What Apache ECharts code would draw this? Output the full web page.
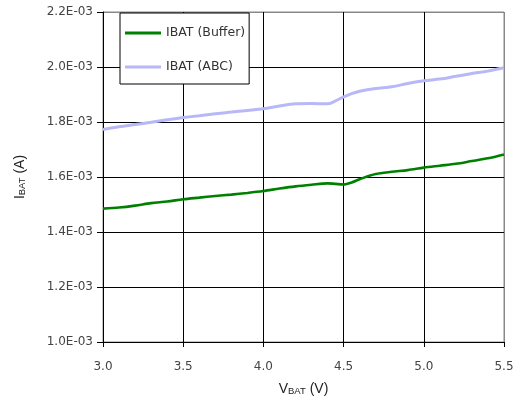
<!DOCTYPE html>
<html>
<head>
<meta charset="utf-8">
<script src="https://cdn.jsdelivr.net/npm/echarts@6/dist/echarts.min.js"></script>
<style>
  html, body { margin: 0; padding: 0; background: #fff; }
  #chart { width: 521px; height: 402px; }
</style>
</head>
<body>
<div id="chart"></div>
<script>
// Battery voltage sweep (V)
const vbat = [3.0, 3.1, 3.2, 3.3, 3.4, 3.5, 3.6, 3.7, 3.8, 3.9, 4.0, 4.1, 4.2, 4.3, 4.4, 4.45, 4.5, 4.55, 4.6, 4.7, 4.8, 4.9, 5.0, 5.1, 5.2, 5.3, 5.4, 5.5];

// Battery current (A) in buffer mode
const ibatBuffer = [1.485e-3, 1.489e-3, 1.496e-3, 1.505e-3, 1.511e-3, 1.519e-3, 1.525e-3, 1.531e-3, 1.536e-3, 1.542e-3,
  1.549e-3, 1.558e-3, 1.566e-3, 1.572e-3, 1.577e-3, 1.575e-3, 1.573e-3, 1.580e-3, 1.592e-3, 1.611e-3,
  1.619e-3, 1.625e-3, 1.634e-3, 1.641e-3, 1.648e-3, 1.658e-3, 1.668e-3, 1.682e-3];

// Battery current (A) in ABC mode
const ibatAbc = [1.773e-3, 1.783e-3, 1.791e-3, 1.799e-3, 1.808e-3, 1.816e-3, 1.823e-3, 1.830e-3, 1.836e-3, 1.842e-3,
  1.848e-3, 1.858e-3, 1.866e-3, 1.867e-3, 1.866e-3, 1.877e-3, 1.891e-3, 1.903e-3, 1.912e-3, 1.922e-3,
  1.928e-3, 1.940e-3, 1.950e-3, 1.956e-3, 1.966e-3, 1.976e-3, 1.985e-3, 1.997e-3];

const seriesNames = ['IBAT (Buffer)', 'IBAT (ABC)'];

const tickFont = 'DejaVu Sans';
const titleFont = 'Liberation Sans';

const chart = echarts.init(document.getElementById('chart'), null, { renderer: 'canvas' });

chart.setOption({
  animation: false,
  backgroundColor: '#ffffff',
  grid: {
    left: 103, right: 17, top: 12, bottom: 60,
    show: true, borderColor: '#888888', borderWidth: 1, backgroundColor: 'transparent'
  },
  legend: {
    orient: 'vertical',
    left: 120, top: 13,
    padding: [12, 4, 9, 5],
    itemGap: 18,
    icon: 'rect',
    itemWidth: 36, itemHeight: 3,
    backgroundColor: '#ffffff',
    borderColor: '#000000', borderWidth: 1,
    textStyle: { fontFamily: tickFont, fontSize: 12.5, color: '#333', lineHeight: 16 },
    data: seriesNames
  },
  xAxis: {
    type: 'value',
    min: 3.0, max: 5.5, interval: 0.5,
    axisLine: { show: true, lineStyle: { color: '#000', width: 1 } },
    axisTick: { show: true, length: 5, lineStyle: { color: '#000' } },
    axisLabel: {
      margin: 19,
      fontFamily: tickFont, fontSize: 12, color: '#444',
      formatter: v => v.toFixed(1)
    },
    splitLine: { show: true, lineStyle: { color: ['#000', '#000', '#000', '#000', '#000', '#888'], width: 1 } },
    name: '{m|V}{s|BAT}{m| (V)}',
    nameLocation: 'middle',
    nameGap: 38,
    nameTextStyle: {
      rich: {
        m: { fontFamily: titleFont, fontSize: 14, color: '#222', verticalAlign: 'bottom', lineHeight: 16 },
        s: { fontFamily: titleFont, fontSize: 9.5, color: '#222', verticalAlign: 'bottom', lineHeight: 13 }
      }
    }
  },
  yAxis: {
    type: 'value',
    min: 0.0010, max: 0.0022, interval: 0.0002,
    axisLine: { show: true, lineStyle: { color: '#000', width: 1 } },
    axisTick: { show: true, length: 6, lineStyle: { color: '#000' } },
    axisLabel: {
      margin: 10,
      fontFamily: tickFont, fontSize: 12, color: '#444',
      formatter: v => (v * 1000).toFixed(1) + 'E-03'
    },
    splitLine: { show: true, lineStyle: { color: ['#888', '#000', '#000', '#000', '#000', '#000', '#888'], width: 1 } },
    name: '{m|I}{s|BAT}{m| (A)}',
    nameLocation: 'middle',
    nameGap: 76,
    nameRotate: 90,
    nameTextStyle: {
      rich: {
        m: { fontFamily: titleFont, fontSize: 14, color: '#222', verticalAlign: 'bottom', lineHeight: 16 },
        s: { fontFamily: titleFont, fontSize: 9.5, color: '#222', verticalAlign: 'bottom', lineHeight: 13 }
      }
    }
  },
  series: [
    {
      name: seriesNames[0],
      type: 'line',
      symbol: 'none',
      smooth: 0.3,
      lineStyle: { color: '#008000', width: 2.6 },
      itemStyle: { color: '#008000' },
      data: vbat.map((v, i) => [v, ibatBuffer[i]])
    },
    {
      name: seriesNames[1],
      type: 'line',
      symbol: 'none',
      smooth: 0.3,
      lineStyle: { color: '#b8b8f8', width: 3 },
      itemStyle: { color: '#b8b8f8' },
      data: vbat.map((v, i) => [v, ibatAbc[i]])
    }
  ]
});
</script>
</body>
</html>
